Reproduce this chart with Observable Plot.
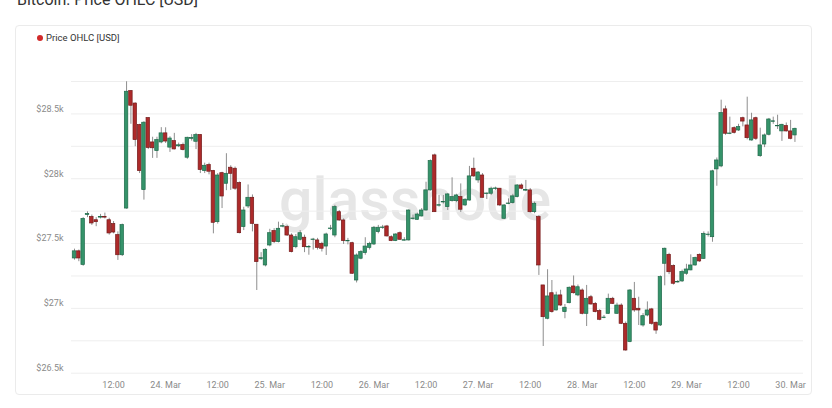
<!DOCTYPE html>
<html><head><meta charset="utf-8">
<script src="https://cdn.jsdelivr.net/npm/d3@7"></script>
<script src="https://cdn.jsdelivr.net/npm/@observablehq/plot@0.6"></script>
<style>
html,body{margin:0;padding:0;background:#fff;width:832px;height:408px;overflow:hidden;font-family:Roboto,"Noto Sans",sans-serif;}
#wrap{position:relative;width:832px;height:408px;}
#title{position:absolute;left:17px;top:-8px;font-size:16px;line-height:16px;color:#333;white-space:nowrap;}
#card{position:absolute;left:15px;top:25px;width:797px;height:370px;border:1px solid #ebebeb;border-radius:4px;box-sizing:border-box;background:#fff;}
#legend{position:absolute;left:37px;top:32px;font-size:9.5px;line-height:12px;color:#333;display:flex;align-items:center;gap:3px;white-space:nowrap;}
#legend .dot{width:6px;height:6px;border-radius:50%;background:#d12a2a;display:inline-block;}
#wm{position:absolute;left:279px;top:170px;font-size:59px;line-height:59px;font-weight:500;color:#e6e6e6;font-family:Roboto,sans-serif;white-space:nowrap;}
#chart{position:absolute;left:0;top:0;}
</style></head>
<body><div id="wrap">
<div id="title">Bitcoin: Price OHLC [USD]</div>
<div id="card"></div>
<div id="legend"><span class="dot"></span><span>Price OHLC [USD]</span></div>
<div id="wm">glassnode</div>
<div id="chart"></div>
</div>
<script>
// Hourly candles starting 23 Mar 2023 03:00 UTC
const startTime = Date.UTC(2023, 2, 23, 3);
const HOUR = 3600e3;

const open = [27385,27440,27335,27720,27705,27680,27700,27706,27680,27650,27565,27410,27770,28676,28580,28414,27912,28468,28280,28213,
28280,28350,28240,28290,28250,28260,28162,28308,28285,28337,28059,28105,28060,27665,28043,27961,28085,28077,27966,27627,
27786,27853,27645,27380,27331,27485,27596,27511,27630,27627,27562,27472,27529,27545,27470,27527,27524,27498,27477,27612,
27562,27742,27678,27517,27503,27215,27383,27426,27467,27493,27588,27620,27632,27549,27519,27580,27522,27524,27689,27683,
27709,27755,27910,28180,27792,27817,27781,27827,27827,27858,27794,27832,28077,27987,28025,27882,27884,27921,27923,27691,
27805,27812,27858,27948,27908,27910,27742,27704,27177,26920,27117,26984,27100,26971,27040,27169,27100,27138,26958,27086,
27035,26979,26925,26958,27074,26958,27022,26881,26740,27074,26997,26868,26945,26992,26889,26868,27344,27413,27326,27200,
27208,27267,27293,27331,27413,27382,27565,27549,28072,28095,28535,28345,28390,28372,28467,28411,28295,28467,28174,28264,
28339,28439,28404,28365,28406,28365,28334];
const high = [27457,27450,27700,27745,27720,27700,27725,27735,27695,27670,27590,27650,28748,28680,28585,28420,28440,28470,28320,28320,
28394,28393,28324,28350,28275,28275,28320,28340,28350,28340,28120,28120,28064,28040,28050,28193,28100,28090,27975,27780,
27952,27875,27645,27430,27460,27610,27615,27665,27655,27640,27575,27570,27600,27565,27485,27540,27540,27510,27580,27640,
27795,27755,27690,27540,27510,27420,27445,27545,27510,27632,27640,27640,27640,27560,27575,27590,27545,27760,27720,27735,
27770,27973,28145,28190,27871,27871,27885,28007,27880,27960,27845,28095,28159,28055,28040,27890,27935,27935,27925,27800,
27845,27880,27955,27960,27987,27925,27820,27715,27177,27298,27215,27125,27140,27030,27165,27250,27180,27150,27177,27100,
27045,26990,26945,27110,27085,27040,27035,26895,27145,27200,27086,26960,27050,27000,26895,27250,27465,27425,27335,27215,
27295,27340,27413,27395,27420,27590,27590,28065,28160,28606,28560,28475,28400,28420,28475,28629,28505,28475,28390,28345,
28465,28475,28490,28420,28430,28450,28390];
const low = [27372,27360,27325,27700,27640,27630,27690,27690,27565,27575,27370,27400,27765,28420,28247,28040,27835,28225,28157,28157,
28270,28272,28203,28222,28240,28215,28150,28290,28225,28040,28040,28030,27575,27650,27770,27908,27910,27910,27575,27600,
27770,27590,27138,27370,27320,27475,27500,27505,27622,27555,27428,27460,27520,27430,27410,27450,27450,27435,27408,27600,
27545,27672,27493,27490,27262,27196,27375,27410,27450,27485,27575,27610,27550,27515,27515,27525,27520,27520,27680,27680,
27705,27750,27905,27740,27781,27805,27755,27820,27815,27740,27785,27827,28010,27965,27853,27840,27870,27910,27785,27685,
27800,27805,27852,27915,27900,27735,27730,27254,26706,26912,26963,26980,27015,26920,27035,27110,27090,26950,26860,27025,
26965,26905,26920,26955,27030,26955,26875,26670,26735,26970,26868,26855,26935,26870,26800,26860,27174,27260,27180,27195,
27200,27255,27290,27325,27355,27378,27550,27510,27942,28085,28335,28340,28345,28365,28400,28300,28290,28295,28165,28240,
28330,28420,28380,28288,28360,28300,28280];
const close = [27440,27385,27690,27728,27655,27665,27706,27700,27578,27585,27410,27642,28671,28563,28298,28059,28432,28237,28235,28298,
28350,28287,28310,28226,28258,28221,28316,28314,28337,28067,28100,28054,27660,28025,27863,28038,28038,27923,27580,27755,
27853,27652,27357,27387,27452,27580,27511,27614,27634,27562,27434,27549,27580,27472,27474,27531,27467,27460,27570,27616,
27781,27678,27519,27521,27267,27408,27434,27477,27498,27622,27622,27624,27555,27519,27570,27529,27526,27755,27693,27724,
27755,27910,28136,27742,27796,27821,27879,27858,27871,27761,27838,28018,28018,28048,27853,27886,27923,27925,27794,27794,
27809,27864,27948,27923,27912,27742,27807,27331,26932,27092,26971,27100,27022,27005,27159,27117,27163,26958,27074,27030,
26971,26912,26929,27074,27035,27022,26881,26675,27138,26984,26984,26940,26984,26881,26829,27241,27460,27279,27190,27204,
27280,27300,27331,27388,27362,27575,27569,28057,28141,28506,28347,28349,28354,28398,28441,28313,28450,28308,28257,28334,
28457,28443,28408,28416,28365,28308,28385];

const yGridValues = [26500,26750,27000,27250,27500,27750,28000,28250,28500,28750];
const yLabelValues = [26500,27000,27500,28000,28500];
const xTickValues = d3.range(0, 14).map(k => new Date(Date.UTC(2023, 2, 23, 12) + k * 12 * HOUR));
const monthNames = ["Jan","Feb","Mar","Apr","May","Jun","Jul","Aug","Sep","Oct","Nov","Dec"];

const candles = open.map((o, i) => ({
  t: new Date(startTime + i * HOUR),
  o, h: high[i], l: low[i], c: close[i]
}));
const GREEN = "#35936a", GREEN_S = "#1f6a4a", RED = "#ad2a2a", RED_S = "#741a1a";
const half = 24 * 60e3;

const chart = Plot.plot({
  width: 832, height: 408,
  marginLeft: 71, marginRight: 29, marginTop: 81, marginBottom: 35.3,
  style: {background: "transparent", fontFamily: "Roboto, 'Noto Sans', sans-serif"},
  x: {type: "utc", domain: [new Date(startTime - 0.69 * HOUR), new Date(startTime + 167.97 * HOUR)]},
  y: {domain: [26500, 28750]},
  color: {type: "identity"},
  marks: [
    Plot.gridY(yGridValues, {stroke: "#eeeeee", strokeOpacity: 1}),
    Plot.axisY(yLabelValues, {tickSize: 0, tickPadding: 8, dy: -5, fontSize: 9, fill: "#8a8a8a",
      tickFormat: d => "$" + (d / 1000) + "k", label: null}),
    Plot.axisX(xTickValues, {tickSize: 0, tickPadding: 8, fontSize: 9, fill: "#8a8a8a", label: null,
      tickFormat: d => d.getUTCHours() === 0 ? `${d.getUTCDate()}. ${monthNames[d.getUTCMonth()]}` : "12:00"}),
    Plot.ruleX(candles, {x: "t", y1: "l", y2: "h", stroke: "#8e8e8e", strokeWidth: 1}),
    Plot.rect(candles, {
      x1: d => new Date(+d.t - half), x2: d => new Date(+d.t + half),
      y1: "o", y2: "c",
      fill: d => d.c >= d.o ? GREEN : RED,
      stroke: d => d.c >= d.o ? GREEN_S : RED_S,
      strokeWidth: 0.7
    })
  ]
});
document.getElementById("chart").appendChild(chart);
</script>
</body></html>
